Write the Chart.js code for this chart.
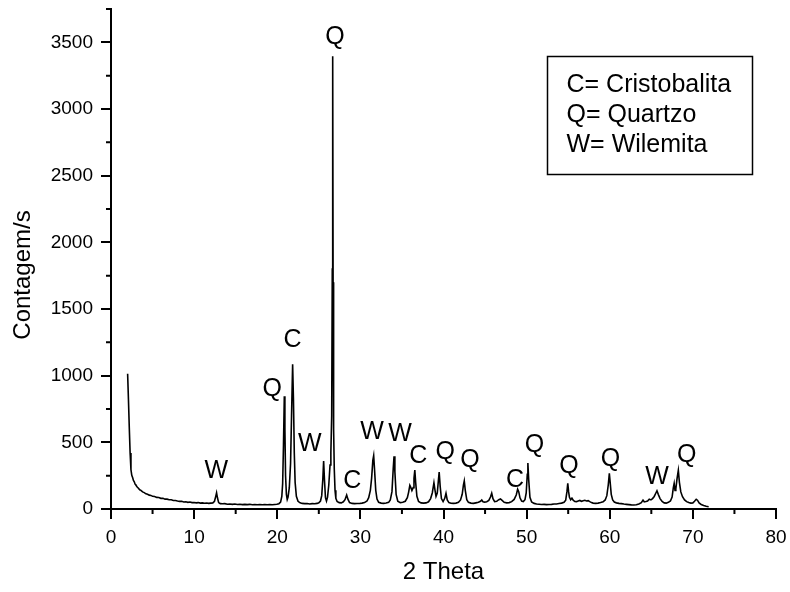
<!DOCTYPE html>
<html><head><meta charset="utf-8">
<script src="https://cdn.jsdelivr.net/npm/chart.js@4.4.1/dist/chart.umd.min.js"></script>
<style>html,body{margin:0;padding:0;background:#fff}#wrap{width:790px;height:592px}</style>
</head><body><div id="wrap"><canvas id="c" width="790" height="592"></canvas></div>
<script>
const twoTheta = [
2.00,2.10,2.20,2.30,2.40,2.50,2.60,2.70,2.80,2.90,3.00,3.15,3.30,3.45,3.60,3.80,4.00,4.20,4.40,4.60,4.80,
5.00,5.25,5.50,5.75,6.00,6.25,6.50,6.75,7.00,7.25,7.50,7.75,8.00,8.25,8.50,8.75,9.00,9.25,9.50,9.75,
10.00,10.25,10.50,10.75,11.00,11.25,11.50,11.75,12.00,12.25,12.45,12.60,12.70,12.80,12.95,13.15,13.40,13.70,
14.00,14.30,14.60,14.90,15.20,15.50,15.80,16.10,16.40,16.70,17.00,17.30,17.60,17.90,18.20,18.50,18.80,19.10,19.40,19.70,19.95,
20.20,20.40,20.55,20.65,20.75,20.85,20.92,21.00,21.10,21.20,21.30,21.45,21.60,21.72,21.85,21.95,22.05,22.15,22.30,22.50,22.75,
23.00,23.30,23.60,23.90,24.20,24.50,24.80,25.00,25.20,25.35,25.48,25.58,25.68,25.80,25.92,26.05,26.20,26.35,26.45,26.55,26.62,26.67,26.72,26.78,26.86,26.95,
27.05,27.20,27.45,27.70,27.95,28.15,28.35,28.50,28.70,29.00,29.30,29.60,29.90,30.20,30.50,30.80,31.00,31.20,31.35,31.50,31.60,31.70,31.85,
32.00,32.20,32.50,32.80,33.10,33.40,33.60,33.80,33.95,34.05,34.15,34.30,34.50,34.80,35.10,35.40,35.65,35.80,35.95,36.05,36.20,36.35,36.45,36.55,36.65,36.80,
37.00,37.30,37.60,37.90,38.20,38.45,38.65,38.85,38.98,39.10,39.25,39.38,39.48,39.60,39.75,39.95,40.15,40.30,40.45,40.65,40.90,
41.20,41.50,41.80,42.05,42.25,42.40,42.50,42.62,42.80,43.00,43.30,43.60,43.90,44.20,44.45,44.60,44.75,44.95,45.20,45.45,45.65,45.80,45.95,
46.15,46.40,46.65,46.85,47.05,47.30,47.60,47.90,48.20,48.50,48.75,48.92,49.05,49.20,49.40,49.60,49.80,49.95,50.08,50.15,50.25,50.40,50.60,50.90,
51.20,51.50,51.80,52.10,52.40,52.70,53.00,53.30,53.60,53.90,54.20,54.50,54.70,54.85,54.95,55.05,55.15,55.30,55.45,55.60,55.80,
56.00,56.20,56.40,56.60,56.80,57.00,57.20,57.40,57.60,57.80,58.00,58.30,58.60,58.90,59.20,59.45,59.65,59.82,59.95,60.05,60.18,60.35,60.55,60.80,
61.10,61.40,61.70,62.00,62.30,62.60,62.90,63.20,63.50,63.80,64.00,64.15,64.35,64.55,64.75,64.95,65.15,65.35,65.55,65.68,65.85,
66.05,66.30,66.55,66.80,67.05,67.30,67.50,67.65,67.75,67.85,67.95,68.10,68.25,68.38,68.55,68.75,69.00,69.25,69.50,69.75,
70.00,70.20,70.40,70.55,70.75,71.00,71.30,71.60,71.90
];
const counts = [
1015,820,610,420,295,252,236,214,204,186,179,165,156,144,140,128,123,114,111,104,102,
95,94,87,86,80,80,74,74,69,69,64,64,60,57,58,53,54,50,52,48,
49,46,48,44,46,43,45,42,44,46,58,95,122,86,48,40,39,40,
36,38,35,37,34,36,33,35,33,35,32,34,32,34,32,33,32,34,32,34,36,
40,52,95,190,480,845,600,250,110,72,90,160,340,700,1085,820,420,200,95,58,46,
42,40,41,38,40,39,42,47,60,100,220,360,220,85,60,90,180,330,420,700,1800,3395,1700,600,300,140,
80,56,48,46,54,70,105,74,48,42,40,41,41,44,48,60,85,140,230,365,400,300,140,
75,50,44,42,45,50,68,130,300,395,280,110,58,48,50,58,85,125,178,165,138,160,230,292,200,95,
56,46,44,46,54,78,120,197,140,95,120,210,277,170,78,56,80,118,68,48,43,
42,44,50,68,110,180,210,140,70,50,44,42,46,50,58,67,54,52,55,64,90,118,78,
56,58,70,75,64,50,46,48,55,72,105,148,130,84,60,56,70,120,260,345,220,88,52,42,
38,36,34,35,33,34,35,37,38,41,44,50,66,130,193,130,88,70,82,66,56,
55,60,64,58,62,65,60,63,55,48,44,42,44,48,54,68,100,180,267,200,110,68,52,46,
42,40,37,35,33,31,30,32,38,48,67,54,56,60,74,68,78,94,120,137,108,
78,56,46,44,50,60,90,160,192,140,150,230,290,200,128,92,68,55,48,44,
46,58,73,66,45,34,26,20,17
];
const xTickValues = [0,10,20,30,40,50,60,70,80];
const yTickValues = [0,500,1000,1500,2000,2500,3000,3500];
const xMinorTicks = [5,15,25,35,45,55,65,75];
const yMinorTicks = [250,750,1250,1750,2250,2750,3250,3750];
const peakLabels = ['W','Q','C','W','Q','C','W','W','C','Q','Q','C','Q','Q','Q','W','Q'];
const labelX = [12.66,19.39,21.83,23.91,26.95,29.03,31.4,34.77,36.97,40.2,43.19,48.6,50.95,55.1,60.09,65.68,69.26];
const labelY = [285,900,1269,488,3542,207,576,563,394,426,363,216,482,321,375,238,407];
const legendLines = ['C= Cristobalita','Q= Quartzo','W= Wilemita'];
const xTitle = '2 Theta';
const yTitle = 'Contagem/s';

const FONT = '"Liberation Sans", Arial, sans-serif';
Chart.defaults.font.family = FONT;
Chart.defaults.color = '#000';

const points = twoTheta.map((t, i) => ({x: t, y: counts[i]}));

const annot = {
  id: 'annot',
  afterDraw(chart) {
    const {ctx, chartArea: a, scales: {x, y}} = chart;
    ctx.save();
    ctx.strokeStyle = '#000';
    ctx.lineWidth = 2;
    ctx.beginPath();
    yMinorTicks.forEach(v => {
      const py = y.getPixelForValue(v);
      ctx.moveTo(a.left - 5, py); ctx.lineTo(a.left, py);
    });
    xMinorTicks.forEach(v => {
      const px = x.getPixelForValue(v);
      ctx.moveTo(px, a.bottom); ctx.lineTo(px, a.bottom + 5);
    });
    ctx.stroke();
    ctx.fillStyle = '#000';
    ctx.font = '25px ' + FONT;
    ctx.textAlign = 'center';
    ctx.textBaseline = 'middle';
    peakLabels.forEach((t, i) => ctx.fillText(t, x.getPixelForValue(labelX[i]), y.getPixelForValue(labelY[i])));
    ctx.lineWidth = 1.5;
    ctx.strokeRect(547.5, 56.5, 205, 118);
    ctx.textAlign = 'left';
    legendLines.forEach((t, i) => ctx.fillText(t, 566.5, 85.5 + i * 29.7));
    ctx.font = '24px ' + FONT;
    ctx.translate(23.3, 275);
    ctx.rotate(-Math.PI / 2);
    ctx.textAlign = 'center';
    ctx.fillText(yTitle, 0, 0);
    ctx.restore();
  }
};

new Chart(document.getElementById('c'), {
  type: 'scatter',
  data: {datasets: [{data: points, showLine: true, borderColor: '#000', borderWidth: 1.6, pointRadius: 0, tension: 0, fill: false}]},
  options: {
    responsive: false, animation: false, events: [],
    layout: {padding: {top: 9, right: 14, left: 0, bottom: 0}},
    plugins: {legend: {display: false}, tooltip: {enabled: false}},
    scales: {
      x: {
        type: 'linear', min: 0, max: 80,
        afterBuildTicks: s => { s.ticks = xTickValues.map(v => ({value: v})); },
        afterFit: s => { s.height = 83; s.paddingLeft = 0; s.paddingRight = 0; },
        ticks: {font: {size: 19}, color: '#000', padding: 7, maxRotation: 0, autoSkip: false, callback: v => String(v)},
        grid: {drawOnChartArea: false, drawTicks: true, tickLength: 10, color: '#000', lineWidth: 2},
        border: {display: true, color: '#000', width: 2},
        title: {display: true, text: xTitle, font: {size: 24}, color: '#000', padding: {top: 0, bottom: 5}}
      },
      y: {
        type: 'linear', min: 0, max: 3750,
        afterBuildTicks: s => { s.ticks = yTickValues.map(v => ({value: v})); },
        afterFit: s => { s.width = 111; s.paddingTop = 0; s.paddingBottom = 0; },
        ticks: {font: {size: 19}, color: '#000', padding: 8, autoSkip: false, callback: v => String(v)},
        grid: {drawOnChartArea: false, drawTicks: true, tickLength: 10, color: '#000', lineWidth: 2},
        border: {display: true, color: '#000', width: 2}
      }
    }
  },
  plugins: [annot]
});
</script>
</body></html>
